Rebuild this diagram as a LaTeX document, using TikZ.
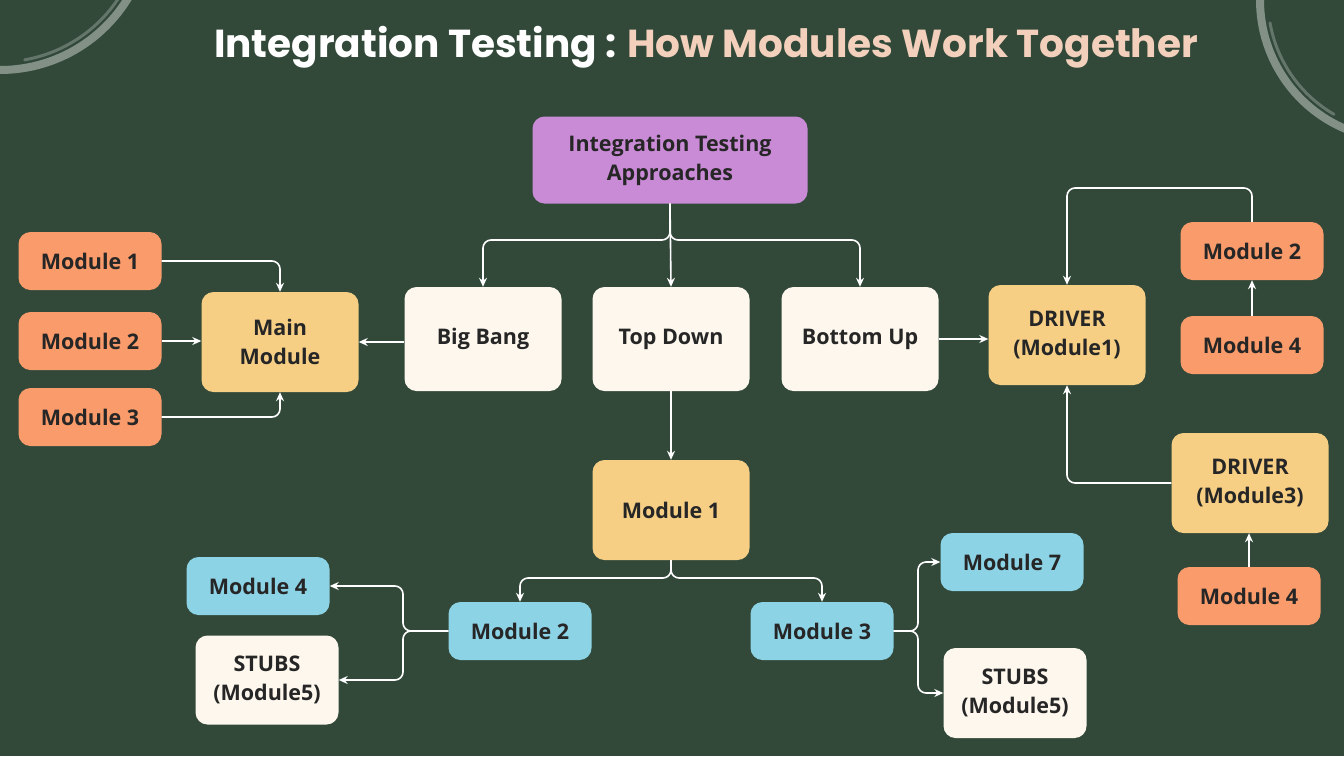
\documentclass[tikz,border=0pt]{standalone}
\usepackage{fontspec}
\setmainfont{Open Sans}
\newfontfamily\titlefont{Poppins}
\usepackage{tikz}
\usetikzlibrary{arrows.meta}

\definecolor{bgGreen}{RGB}{50,73,58}
\definecolor{boxPurple}{RGB}{201,139,214}
\definecolor{boxCream}{RGB}{253,247,238}
\definecolor{boxYellow}{RGB}{246,207,133}
\definecolor{boxOrange}{RGB}{249,155,106}
\definecolor{boxBlue}{RGB}{141,211,230}
\definecolor{titlePeach}{RGB}{243,208,188}
\definecolor{brushGray}{RGB}{150,162,152}

\tikzset{
  box/.style={rounded corners=12pt, align=center, font=\bfseries\fontsize{21.5}{29}\selectfont, text=black!85, inner sep=0pt},
  bigbox/.style={box, minimum width=157pt, minimum height=104pt},
  smallbox/.style={box, minimum width=143pt, minimum height=58pt},
  link/.style={draw=white, line width=1.6pt, rounded corners=8pt, -{Stealth[length=9pt,width=8pt]}},
}

\begin{document}
\begin{tikzpicture}[x=1pt,y=1pt,yscale=-1]
\fill[bgGreen] (0,0) rectangle (1344,756);
\useasboundingbox (0,0) rectangle (1344,756);

% corner brush strokes
\draw[brushGray, line width=8pt, opacity=0.8, line cap=round] (0,-80) ++(95:150) arc[start angle=95, end angle=25, radius=150];
\draw[brushGray, line width=3pt, opacity=0.5, line cap=round] (0,-80) ++(80:142) arc[start angle=80, end angle=30, radius=142];
\draw[brushGray, line width=8pt, opacity=0.8, line cap=round] (1400,0) ++(180:140) arc[start angle=180, end angle=110, radius=140];
\draw[brushGray, line width=3pt, opacity=0.5, line cap=round] (1400,0) ++(170:132) arc[start angle=170, end angle=120, radius=132];

% title
\node (title) at (706,47) {\titlefont\bfseries\fontsize{39}{46}\selectfont\textcolor{white}{Integration Testing :} \textcolor{titlePeach}{How Modules Work Together}};

% top row
\node[box, fill=boxPurple, minimum width=275pt, minimum height=87pt] (approach) at (670,160) {Integration Testing\\Approaches};
\node[bigbox, fill=boxCream] (bigbang) at (483,339) {Big Bang};
\node[bigbox, fill=boxCream] (topdown) at (671,339) {Top Down};
\node[bigbox, fill=boxCream] (bottomup) at (860,339) {Bottom Up};

% big bang side
\node[bigbox, fill=boxYellow, minimum height=100pt] (mainmod) at (280,342) {Main\\Module};
\node[smallbox, fill=boxOrange] (bbmodA) at (90,261) {Module 1};
\node[smallbox, fill=boxOrange] (bbmodB) at (90,341) {Module 2};
\node[smallbox, fill=boxOrange] (bbmodC) at (90,417) {Module 3};

% bottom up side
\node[bigbox, fill=boxYellow, minimum height=100pt] (driverA) at (1067,335) {DRIVER\\(Module1)};
\node[smallbox, fill=boxOrange] (bumodB) at (1252,251) {Module 2};
\node[smallbox, fill=boxOrange] (bumodD) at (1252,345) {Module 4};
\node[bigbox, fill=boxYellow, minimum height=100pt] (driverC) at (1250,483) {DRIVER\\(Module3)};
\node[smallbox, fill=boxOrange] (bumodE) at (1249,596) {Module 4};

% top down side
\node[bigbox, fill=boxYellow, minimum height=100pt] (tdmodA) at (671,510) {Module 1};
\node[smallbox, fill=boxBlue] (tdmodB) at (520,631) {Module 2};
\node[smallbox, fill=boxBlue] (tdmodC) at (822,631) {Module 3};
\node[smallbox, fill=boxBlue] (tdmodD) at (258,586) {Module 4};
\node[smallbox, fill=boxCream, minimum height=89pt] (stubA) at (267,680) {STUBS\\(Module5)};
\node[smallbox, fill=boxBlue] (tdmodG) at (1012,562) {Module 7};
\node[smallbox, fill=boxCream, minimum height=90pt] (stubB) at (1015,693) {STUBS\\(Module5)};

% connectors
\draw[link] (approach.south) |- (580,240) -| (bigbang.north);
\draw[link] (approach.south) -- (topdown.north);
\draw[link] (approach.south) |- (760,240) -| (bottomup.north);
\draw[link] (bigbang.west |- mainmod.east) -- (mainmod.east);
\draw[link] (bbmodA.east) -| (mainmod.north);
\draw[link] (bbmodB.east) -- (bbmodB.east -| mainmod.west);
\draw[link] (bbmodC.east) -| (mainmod.south);
\draw[link] (bottomup.east) -- (bottomup.east -| driverA.west);
\draw[link] (bumodB.north) |- (1150,188) -| (driverA.north);
\draw[link] (bumodD.north) -- (bumodB.south);
\draw[link] (driverC.west) -| (driverA.south);
\draw[link] (bumodE.north) -- (bumodE.north |- driverC.south);
\draw[link] (topdown.south) -- (tdmodA.north);
\draw[link] (tdmodA.south) |- (600,578) -| (tdmodB.north);
\draw[link] (tdmodA.south) |- (740,578) -| (tdmodC.north);
\draw[link] (tdmodB.west) -| (403,610) |- (tdmodD.east);
\draw[link] (tdmodB.west) -| (403,650) |- (stubA.east);
\draw[link] (tdmodC.east) -| (918,600) |- (tdmodG.west);
\draw[link] (tdmodC.east) -| (918,660) |- (stubB.west);
\end{tikzpicture}
\end{document}
